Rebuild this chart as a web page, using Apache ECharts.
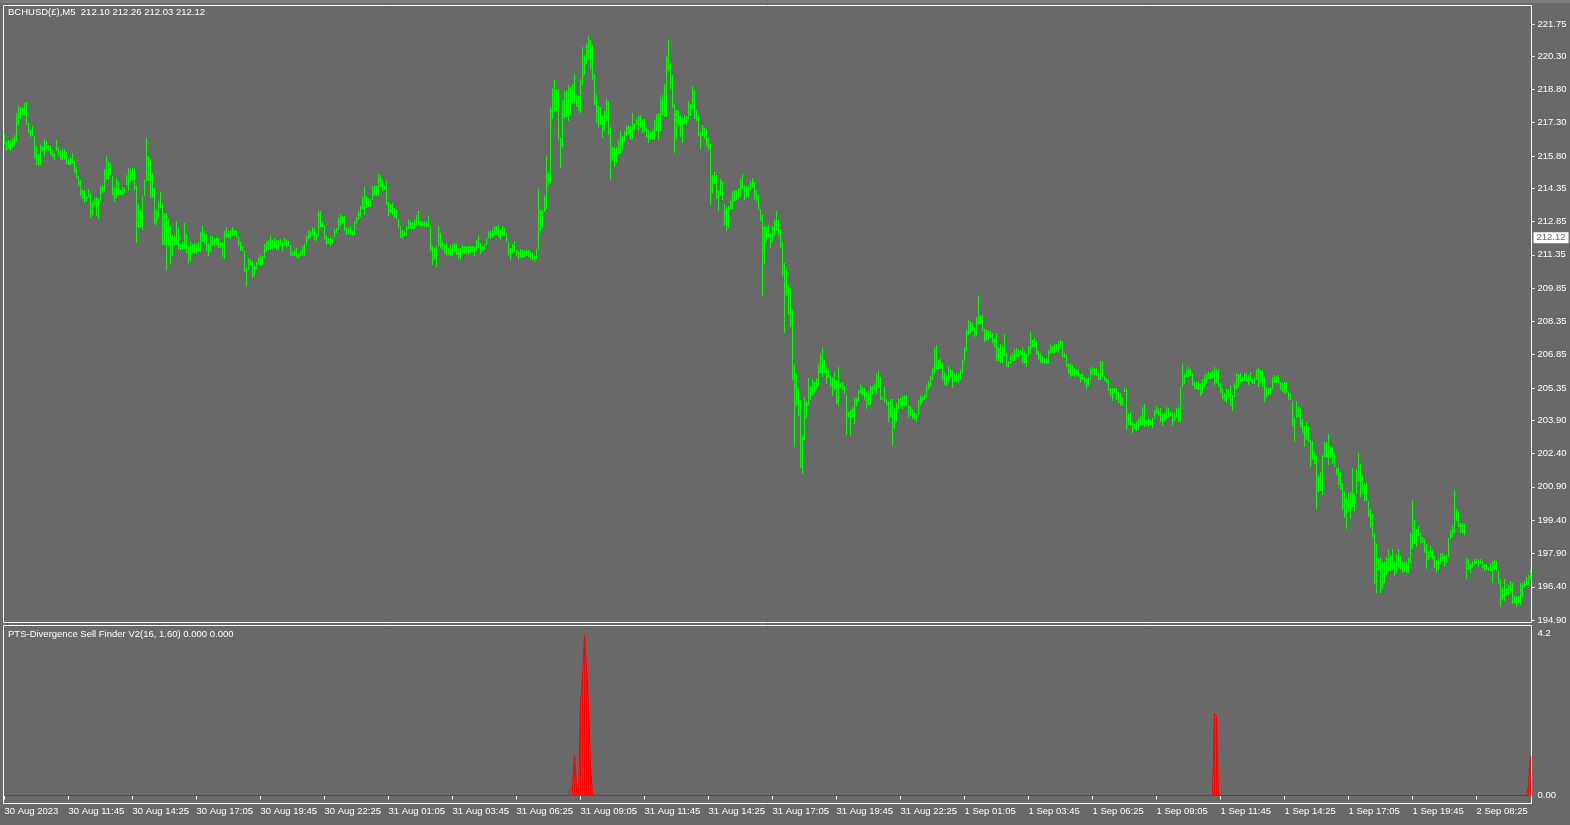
<!DOCTYPE html>
<html>
<head>
<meta charset="utf-8">
<script src="https://cdn.jsdelivr.net/npm/echarts@6/dist/echarts.min.js"></script>
<style>
html,body{margin:0;padding:0;background:#696969;}
#chart{width:1570px;height:825px;}
</style>
</head>
<body>
<div id="chart"></div>
<script>
// ---------- DATA ----------
const symbolTitle = 'BCHUSD(£),M5  212.10 212.26 212.03 212.12';
const indicatorTitle = 'PTS-Divergence Sell Finder V2(16, 1.60) 0.000 0.000';
const bidPrice = 212.12;

const priceTickLabels = ['194.90','196.40','197.90','199.40','200.90','202.40','203.90','205.35','206.85','208.35','209.85','211.35','212.85','214.35','215.80','217.30','218.80','220.30','221.75'];
const indicatorTickValues = [4.2, 0];
const indicatorTickLabels = ['4.2', '0.00'];
const timeTickLabels = ['30 Aug 2023','30 Aug 11:45','30 Aug 14:25','30 Aug 17:05','30 Aug 19:45','30 Aug 22:25','31 Aug 01:05','31 Aug 03:45','31 Aug 06:25','31 Aug 09:05','31 Aug 11:45','31 Aug 14:25','31 Aug 17:05','31 Aug 19:45','31 Aug 22:25','1 Sep 01:05','1 Sep 03:45','1 Sep 06:25','1 Sep 09:05','1 Sep 11:45','1 Sep 14:25','1 Sep 17:05','1 Sep 19:45','2 Sep 08:25'];

// bar highs (M5 bars)
const highs = [
216.80,216.49,216.53,216.53,216.61,216.76,217.73,218.06,218.03,218.00,
218.18,218.24,217.31,217.01,217.16,216.68,216.23,215.90,216.31,216.26,
216.56,216.49,216.31,216.23,216.08,215.93,216.53,216.20,216.01,216.11,
216.11,215.96,215.66,215.75,215.93,215.59,215.29,214.88,214.73,214.31,
214.28,214.01,214.33,214.13,213.76,213.95,213.95,213.91,214.46,214.51,
215.21,215.81,215.56,215.48,214.88,214.39,214.81,214.69,214.28,214.39,
214.36,214.96,215.26,215.21,215.26,215.26,214.46,213.65,213.41,213.98,
214.73,216.61,215.81,215.66,215.03,214.36,213.41,213.76,214.18,213.65,
213.23,213.23,212.96,212.66,212.26,212.24,212.89,212.56,211.85,211.91,
212.78,212.30,211.73,211.91,211.85,211.88,211.85,211.93,212.38,212.66,
212.41,212.30,211.88,212.21,212.18,212.11,212.15,212.12,211.93,211.91,
212.44,212.60,212.44,212.45,212.60,212.48,212.45,212.18,211.91,211.76,
211.51,210.76,211.21,211.18,211.09,210.91,211.01,211.24,211.36,211.28,
211.85,211.99,212.03,212.26,212.00,212.11,212.00,212.00,212.06,211.96,
212.11,212.00,211.96,211.78,211.51,211.63,211.66,211.43,211.55,211.73,
211.85,212.26,212.48,212.41,212.60,212.56,212.30,213.34,213.34,212.81,
212.66,212.26,212.11,212.15,212.11,212.51,212.56,213.05,213.20,213.08,
213.08,212.59,212.60,212.66,212.41,212.86,213.04,213.34,213.56,213.98,
214.40,213.98,213.91,213.86,214.46,214.51,214.43,215.00,214.93,214.73,
214.51,214.67,213.71,213.65,213.68,213.46,213.38,212.96,212.66,212.48,
212.41,212.63,212.98,212.86,212.81,212.96,213.16,213.31,212.86,212.89,
212.86,212.86,213.08,212.63,211.73,211.66,211.76,212.63,212.33,211.96,
211.85,211.88,211.66,211.81,211.84,211.88,211.85,211.66,211.66,211.81,
211.73,211.73,211.76,211.73,211.76,211.76,212.03,212.21,211.88,211.73,
211.85,212.11,212.44,212.41,212.51,212.63,212.66,212.71,212.51,212.63,
212.56,212.33,211.91,211.66,211.85,211.96,211.58,211.54,211.61,211.58,
211.58,211.58,211.55,211.51,211.43,211.36,211.61,214.31,213.43,213.38,
214.06,215.81,215.08,218.00,218.86,219.23,218.81,218.81,216.65,218.33,
218.71,218.78,219.01,218.93,219.05,219.50,218.56,218.51,219.26,220.73,
220.36,220.91,221.21,221.03,220.81,219.50,218.56,218.11,218.00,217.66,
217.81,218.36,218.26,217.10,216.23,216.20,216.20,216.50,216.91,216.68,
216.91,217.16,217.21,217.16,217.73,217.28,217.46,217.66,217.66,217.46,
217.46,217.13,216.95,216.91,216.95,217.43,217.70,217.76,218.48,218.56,
219.05,220.31,221.03,219.98,219.46,218.15,217.88,217.88,217.66,217.55,
217.66,217.61,218.26,218.15,218.96,218.78,217.88,217.66,216.91,217.21,
217.06,217.01,216.61,216.35,214.96,215.06,214.96,214.28,214.76,214.66,
213.65,213.50,213.53,213.86,214.21,214.28,214.28,214.36,214.76,215.00,
214.51,214.46,214.43,214.66,214.81,214.61,214.28,214.06,213.41,213.15,
212.63,212.63,212.71,212.33,212.66,212.90,213.31,212.93,212.51,211.95,
210.97,210.70,209.99,209.85,208.87,206.40,205.99,205.35,204.82,203.24,
204.94,204.75,205.80,205.42,205.75,205.65,205.80,206.43,206.92,207.22,
206.62,206.29,206.20,205.94,205.84,206.09,205.69,206.32,205.57,205.60,
205.45,205.05,204.29,204.34,204.49,204.89,204.89,205.27,205.54,205.39,
205.35,205.15,205.20,205.45,205.42,205.57,205.99,206.13,205.84,204.94,
205.39,204.85,204.75,204.85,204.85,204.45,204.67,204.85,204.89,205.00,
205.05,205.05,204.60,204.55,204.40,204.29,204.19,204.82,205.05,205.00,
205.09,205.50,205.65,205.87,206.25,207.15,207.30,206.62,206.65,206.50,
206.09,205.94,206.35,206.20,206.17,206.05,206.02,206.05,206.20,206.62,
207.19,207.97,208.42,208.35,208.30,208.12,208.57,209.50,208.65,208.65,
208.00,208.00,207.97,207.90,207.85,207.60,207.82,207.22,207.34,207.30,
207.79,206.95,206.55,206.85,206.95,207.10,207.15,207.12,207.07,207.22,
207.00,206.95,207.25,207.87,207.52,207.60,207.49,207.00,206.95,206.80,
206.70,206.70,207.07,207.34,207.25,207.34,207.34,207.45,207.52,207.49,
206.92,206.85,206.47,206.47,206.40,206.25,206.20,206.17,205.99,206.05,
205.84,205.80,205.84,206.25,206.29,206.25,206.25,206.05,206.55,206.55,
205.87,205.80,205.69,205.35,205.35,205.35,205.35,205.15,205.12,204.94,
205.35,205.30,204.19,204.25,203.85,203.77,203.85,204.00,204.10,204.49,
204.64,203.89,204.00,203.89,204.00,204.37,204.52,204.40,204.44,204.24,
204.29,204.51,204.44,204.29,204.29,204.24,204.44,204.51,205.38,206.43,
206.01,206.19,206.31,206.19,206.04,205.68,205.64,205.68,205.56,205.74,
205.94,206.01,206.13,206.09,206.16,206.31,206.19,206.19,205.56,205.34,
205.11,205.34,205.29,205.49,205.04,205.59,206.01,205.97,206.01,205.83,
206.01,206.04,205.94,206.07,205.76,205.83,206.22,206.24,206.16,206.16,
205.86,205.41,205.34,205.38,205.86,205.94,205.89,205.94,205.64,205.56,
205.64,205.64,205.19,205.11,204.78,203.99,204.77,204.51,204.44,203.94,
203.64,203.84,203.64,203.01,202.98,202.49,202.34,201.44,201.59,202.34,
202.94,202.94,203.28,202.74,202.71,202.44,201.74,201.78,201.59,201.06,
200.69,200.46,200.61,200.69,201.74,200.61,201.69,202.41,201.93,201.44,
201.06,201.06,200.24,199.89,199.68,198.84,198.33,197.69,197.73,197.58,
197.54,197.73,198.09,197.84,198.09,197.58,197.88,198.09,197.79,197.58,
197.58,197.58,197.69,198.84,200.31,199.41,198.99,199.14,198.81,198.66,
198.54,198.33,198.03,198.24,198.06,197.79,197.61,197.64,197.91,197.91,
197.84,197.84,198.59,198.96,199.19,200.76,199.89,199.79,199.29,199.26,
199.23,197.69,197.64,197.49,197.54,197.64,197.64,197.64,197.64,197.54,
197.43,197.43,197.31,197.49,197.54,197.61,197.54,197.13,196.74,196.34,
196.74,196.34,196.49,196.64,196.56,196.04,195.99,196.04,196.59,196.56,
196.68,196.83,196.94,197.19
];

// bar lows
const lows = [
216.31,216.01,216.13,216.01,216.16,216.23,216.49,217.21,217.46,217.66,
217.66,217.21,216.83,216.65,216.68,215.68,215.41,215.36,215.41,216.01,
215.78,216.08,216.01,215.86,215.75,215.60,216.01,215.78,215.63,215.63,
215.60,215.45,215.41,215.41,215.43,215.03,214.81,214.46,213.98,213.86,
213.68,213.76,213.95,213.01,213.08,213.61,213.08,212.96,213.76,214.13,
214.21,214.70,214.76,214.96,214.06,213.71,213.91,214.06,214.06,214.06,
214.13,214.51,214.21,214.61,214.66,214.28,211.88,212.56,212.56,212.48,
213.98,214.66,214.66,213.91,213.91,212.75,212.68,213.01,213.46,211.81,
211.81,210.68,211.81,210.94,211.28,211.78,211.78,211.58,211.55,211.55,
211.61,211.43,210.94,211.01,211.43,211.40,211.40,211.49,211.49,211.94,
211.84,211.51,211.28,211.51,211.73,211.73,211.78,211.66,211.66,211.25,
211.18,212.11,212.09,212.06,212.18,212.18,212.15,211.73,211.51,211.51,
210.56,209.93,210.68,210.88,210.31,210.41,210.71,210.91,210.86,210.91,
211.21,211.46,211.58,211.58,211.58,211.66,211.58,211.58,211.81,211.51,
211.73,211.66,211.73,211.28,211.31,211.28,211.25,211.16,211.28,211.28,
211.28,211.81,212.06,212.11,212.21,212.00,211.96,212.18,212.56,212.60,
212.03,211.78,211.85,211.73,211.85,212.15,212.33,212.45,212.63,212.78,
212.41,212.26,212.30,212.26,212.21,212.26,212.75,212.90,213.04,213.41,
213.16,213.50,213.49,213.49,213.83,213.98,213.98,214.06,214.40,214.21,
214.25,213.61,213.08,213.23,213.16,213.01,212.96,212.56,212.11,212.06,
212.18,212.21,212.53,212.53,212.53,212.53,212.63,212.71,212.59,212.63,
212.59,212.59,212.59,211.51,210.91,211.13,210.80,211.76,211.66,211.58,
211.39,211.28,211.36,211.31,211.31,211.46,211.36,211.16,211.13,211.43,
211.40,211.40,211.36,211.43,211.46,211.28,211.51,211.66,211.39,211.46,
211.58,211.81,212.11,212.06,212.11,212.21,212.26,212.15,212.00,212.21,
212.18,211.91,211.31,211.13,211.43,211.51,211.28,211.10,211.21,211.21,
211.25,211.31,211.25,211.16,211.13,211.06,211.16,211.58,212.41,212.56,
213.26,213.41,214.48,214.58,217.46,217.85,217.81,216.53,215.26,216.16,
217.51,217.58,217.36,217.66,218.21,218.15,218.03,217.85,217.73,219.01,
219.46,220.01,220.13,219.68,219.23,218.11,217.28,217.06,217.21,216.61,
216.91,217.36,216.76,214.70,215.56,215.30,215.48,215.86,215.93,216.05,
216.46,216.68,216.76,216.53,216.56,216.98,217.21,216.91,217.06,216.83,
216.91,216.61,216.38,216.50,216.50,216.53,216.91,216.53,216.91,217.66,
217.55,217.55,219.65,218.81,217.96,215.93,216.53,217.21,216.65,216.38,
217.25,217.21,217.46,217.61,217.91,217.46,217.36,216.68,216.11,216.71,
216.56,216.20,216.08,213.61,214.13,214.55,213.86,213.31,213.98,213.83,
212.66,212.41,212.56,213.38,213.41,213.76,213.80,213.86,213.98,214.31,
213.83,213.91,213.95,214.28,214.36,213.80,213.76,213.38,212.86,209.50,
210.94,211.96,212.11,211.66,211.96,212.18,212.41,212.21,211.66,210.40,
207.85,209.50,208.65,208.12,205.72,202.69,204.55,204.07,201.74,201.49,
203.02,204.00,204.60,204.79,205.00,205.12,205.30,205.45,206.05,205.84,
206.05,205.54,205.80,205.39,205.00,205.27,204.64,204.55,205.33,205.27,
205.09,203.24,204.04,203.20,204.00,203.74,204.52,204.70,205.09,204.97,
204.82,204.40,204.60,204.60,205.05,205.24,205.09,205.35,204.82,204.79,
204.70,204.60,203.80,204.00,202.75,203.50,203.80,204.40,204.49,204.40,
204.52,204.52,204.00,204.10,203.95,203.89,203.80,204.15,204.60,204.70,
204.79,204.89,205.30,205.39,205.69,205.99,206.20,206.17,206.20,205.69,
205.50,205.42,205.57,205.84,205.35,205.65,205.60,205.57,205.69,205.99,
206.55,207.00,207.75,207.82,207.90,207.67,207.70,208.19,208.24,207.90,
207.44,207.49,207.52,207.59,207.37,207.19,206.59,206.59,206.50,206.47,
206.80,206.29,206.32,206.50,206.59,206.55,206.77,206.77,206.85,206.50,
206.44,206.32,206.85,206.95,207.22,207.22,206.85,206.62,206.47,206.47,
206.44,206.44,206.50,206.95,206.95,206.95,207.00,206.95,207.25,206.77,
206.70,206.32,205.99,205.84,205.87,205.84,205.94,205.84,205.57,205.69,
205.57,205.30,205.42,205.72,205.94,205.90,205.90,205.69,205.72,205.84,
205.65,205.57,205.20,204.97,204.75,205.12,204.82,204.67,204.52,204.52,
205.15,203.47,203.70,203.65,203.32,203.50,203.40,203.44,203.70,203.65,
203.59,203.62,203.59,203.70,203.55,203.95,204.22,204.15,203.84,203.64,
203.88,203.94,204.03,204.09,203.64,203.88,204.03,203.84,203.84,205.41,
205.53,205.83,205.83,205.89,205.44,205.29,205.29,205.26,204.99,205.08,
205.41,205.53,205.74,205.74,205.79,205.49,205.56,205.41,205.14,204.84,
204.78,204.69,204.96,204.54,204.33,204.96,205.29,205.38,205.59,205.68,
205.68,205.64,205.49,205.68,205.52,205.52,205.71,205.38,205.56,205.38,
204.74,204.89,205.04,205.08,205.29,205.56,205.56,205.56,205.26,205.19,
205.08,205.11,204.81,204.81,203.64,202.94,203.99,204.03,203.61,203.31,
202.68,203.01,202.94,201.81,202.11,201.93,199.89,200.69,200.73,200.54,
202.23,202.19,201.89,202.19,201.93,201.81,201.44,200.99,200.76,199.86,
199.49,198.99,199.79,199.44,200.01,199.79,200.58,201.14,200.46,200.61,
200.28,200.24,199.56,199.04,198.63,196.53,196.11,197.16,196.11,196.29,
196.59,196.94,197.13,197.13,197.16,196.89,197.04,197.24,197.16,197.04,
197.13,197.01,197.01,197.49,198.09,198.33,198.18,198.69,198.33,198.36,
197.94,197.19,197.61,197.76,197.61,197.24,197.01,197.16,197.43,197.54,
197.31,197.49,197.73,198.54,198.66,198.84,199.34,199.11,198.81,198.78,
198.74,196.74,197.16,197.01,197.28,197.39,197.43,197.31,197.43,197.24,
197.13,197.16,197.09,197.13,196.59,197.16,197.13,196.53,195.48,195.81,
195.74,195.99,196.04,196.23,195.63,195.63,195.51,195.66,195.59,195.93,
196.38,196.49,196.49,196.74
];

// indicator: sell-signal buffer (bar index, value); all other bars are 0
const sellSpikes = [
  [284,0.26],[285,1.04],[286,0.26],[288,2.33],[289,3.10],[290,4.15],[291,3.38],[292,2.28],[293,0.78],
  [605,2.12],[606,2.05],
  [762,0.26],[763,1.01]
];

// ---------- BUILD ----------
const FONT = "'Liberation Sans', Arial, sans-serif";
const N = highs.length;
const MON = ['Jan','Feb','Mar','Apr','May','Jun','Jul','Aug','Sep','Oct','Nov','Dec'];
const pad = n => (n < 10 ? '0' : '') + n;
const t0 = Date.UTC(2023, 7, 30, 9, 5);
const categories = [];
for (let i = 0; i < N; i++) {
  const t = t0 + i * 300000 + (i > 730 ? 10 * 3600000 : 0);
  const d = new Date(t);
  categories.push(d.getUTCDate() + ' ' + MON[d.getUTCMonth()] + ' ' + pad(d.getUTCHours()) + ':' + pad(d.getUTCMinutes()));
}
const barData = highs.map((h, i) => [i, lows[i], h]);
const sellVals = categories.map(() => 0);
sellSpikes.forEach(([i, v]) => { sellVals[i] = v; });
const zeroVals = categories.map(() => 0);
const priceTickValues = priceTickLabels.map(Number);

const chart = echarts.init(document.getElementById('chart'), null, {renderer: 'canvas'});
const txt = {color: '#ffffff', fontFamily: FONT, fontSize: 9.5, fontWeight: 'normal'};

chart.setOption({
  animation: false,
  backgroundColor: '#696969',
  textStyle: {fontFamily: FONT},
  title: [
    {text: symbolTitle, left: 8, top: 7, padding: 0, textStyle: txt},
    {text: indicatorTitle, left: 8, top: 629, padding: 0, textStyle: txt}
  ],
  graphic: [
    {type: 'rect', left: 0, top: 0, shape: {width: 1570, height: 3}, style: {fill: '#7c7c7c'}, silent: true}
  ],
  grid: [
    {left: 3.5, top: 5.5, width: 1528, height: 617, show: true, borderColor: '#ffffff', borderWidth: 1, backgroundColor: 'transparent', containLabel: false, outerBoundsMode: 'none'},
    {left: 3.5, top: 625.5, width: 1528, height: 178, show: true, borderColor: '#ffffff', borderWidth: 1, backgroundColor: 'transparent', containLabel: false, outerBoundsMode: 'none'}
  ],
  xAxis: [
    {type: 'category', gridIndex: 0, data: categories, boundaryGap: true, show: false},
    {type: 'category', gridIndex: 1, data: categories, boundaryGap: true,
     axisLine: {show: true, lineStyle: {color: '#ffffff'}},
     axisTick: {show: true, interval: 31, alignWithLabel: true, length: 4, lineStyle: {color: '#ffffff'}},
     axisLabel: Object.assign({interval: 31, align: 'left', margin: 3, hideOverlap: false,
       formatter: (v, idx) => timeTickLabels[idx / 32] || ''}, txt),
     splitLine: {show: false}}
  ],
  yAxis: [
    {type: 'value', gridIndex: 0, position: 'right', min: 194.79, max: 222.58, scale: true,
     axisLine: {show: false}, splitLine: {show: false},
     axisTick: {show: true, length: 3, lineStyle: {color: '#ffffff'}, customValues: priceTickValues},
     axisLabel: Object.assign({margin: 6, customValues: priceTickValues,
       formatter: v => v.toFixed(2)}, txt)},
    {type: 'value', gridIndex: 1, position: 'right', min: -0.2074, max: 4.4076,
     axisLine: {show: false}, splitLine: {show: false},
     axisTick: {show: false},
     axisLabel: Object.assign({margin: 6, customValues: indicatorTickValues,
       formatter: v => indicatorTickLabels[indicatorTickValues.indexOf(v)] || ''}, txt)}
  ],
  series: [
    {
      type: 'custom', name: 'BCHUSD', xAxisIndex: 0, yAxisIndex: 0,
      data: barData, encode: {x: 0, y: [1, 2]},
      renderItem: (params, api) => {
        const i = api.value(0);
        const top = api.coord([i, api.value(2)]);
        const bot = api.coord([i, api.value(1)]);
        const y0 = Math.round(top[1]);
        const h = Math.max(1, Math.round(bot[1]) - y0);
        return {type: 'rect', shape: {x: Math.floor(top[0]), y: y0, width: 1, height: h}, style: {fill: '#00ff00'}};
      }
    },
    {
      type: 'line', name: 'bid', xAxisIndex: 0, yAxisIndex: 0, data: [],
      symbol: 'none', silent: true,
      markLine: {
        silent: true, symbol: 'none', animation: false,
        lineStyle: {color: 'rgba(0,0,0,0)', width: 0},
        label: {show: true, position: 'end', distance: 2, opacity: 1, formatter: () => bidPrice.toFixed(2),
          backgroundColor: '#ffffff', color: '#696969', padding: [1, 3, 0, 3],
          fontFamily: FONT, fontSize: 9.5},
        data: [{yAxis: bidPrice}]
      }
    },
    {
      type: 'line', name: 'sellLine', xAxisIndex: 1, yAxisIndex: 1, data: sellVals,
      symbol: 'none', lineStyle: {color: '#ff0000', width: 1}, z: 2, silent: true
    },
    {
      type: 'bar', name: 'sell', xAxisIndex: 1, yAxisIndex: 1, data: sellVals,
      barWidth: 1, itemStyle: {color: '#ff0000'}, z: 2, silent: true
    },
    {
      type: 'line', name: 'level', xAxisIndex: 1, yAxisIndex: 1, data: zeroVals,
      symbol: 'none', lineStyle: {color: '#008000', width: 1}, z: 3, silent: true
    }
  ]
});
</script>
</body>
</html>
